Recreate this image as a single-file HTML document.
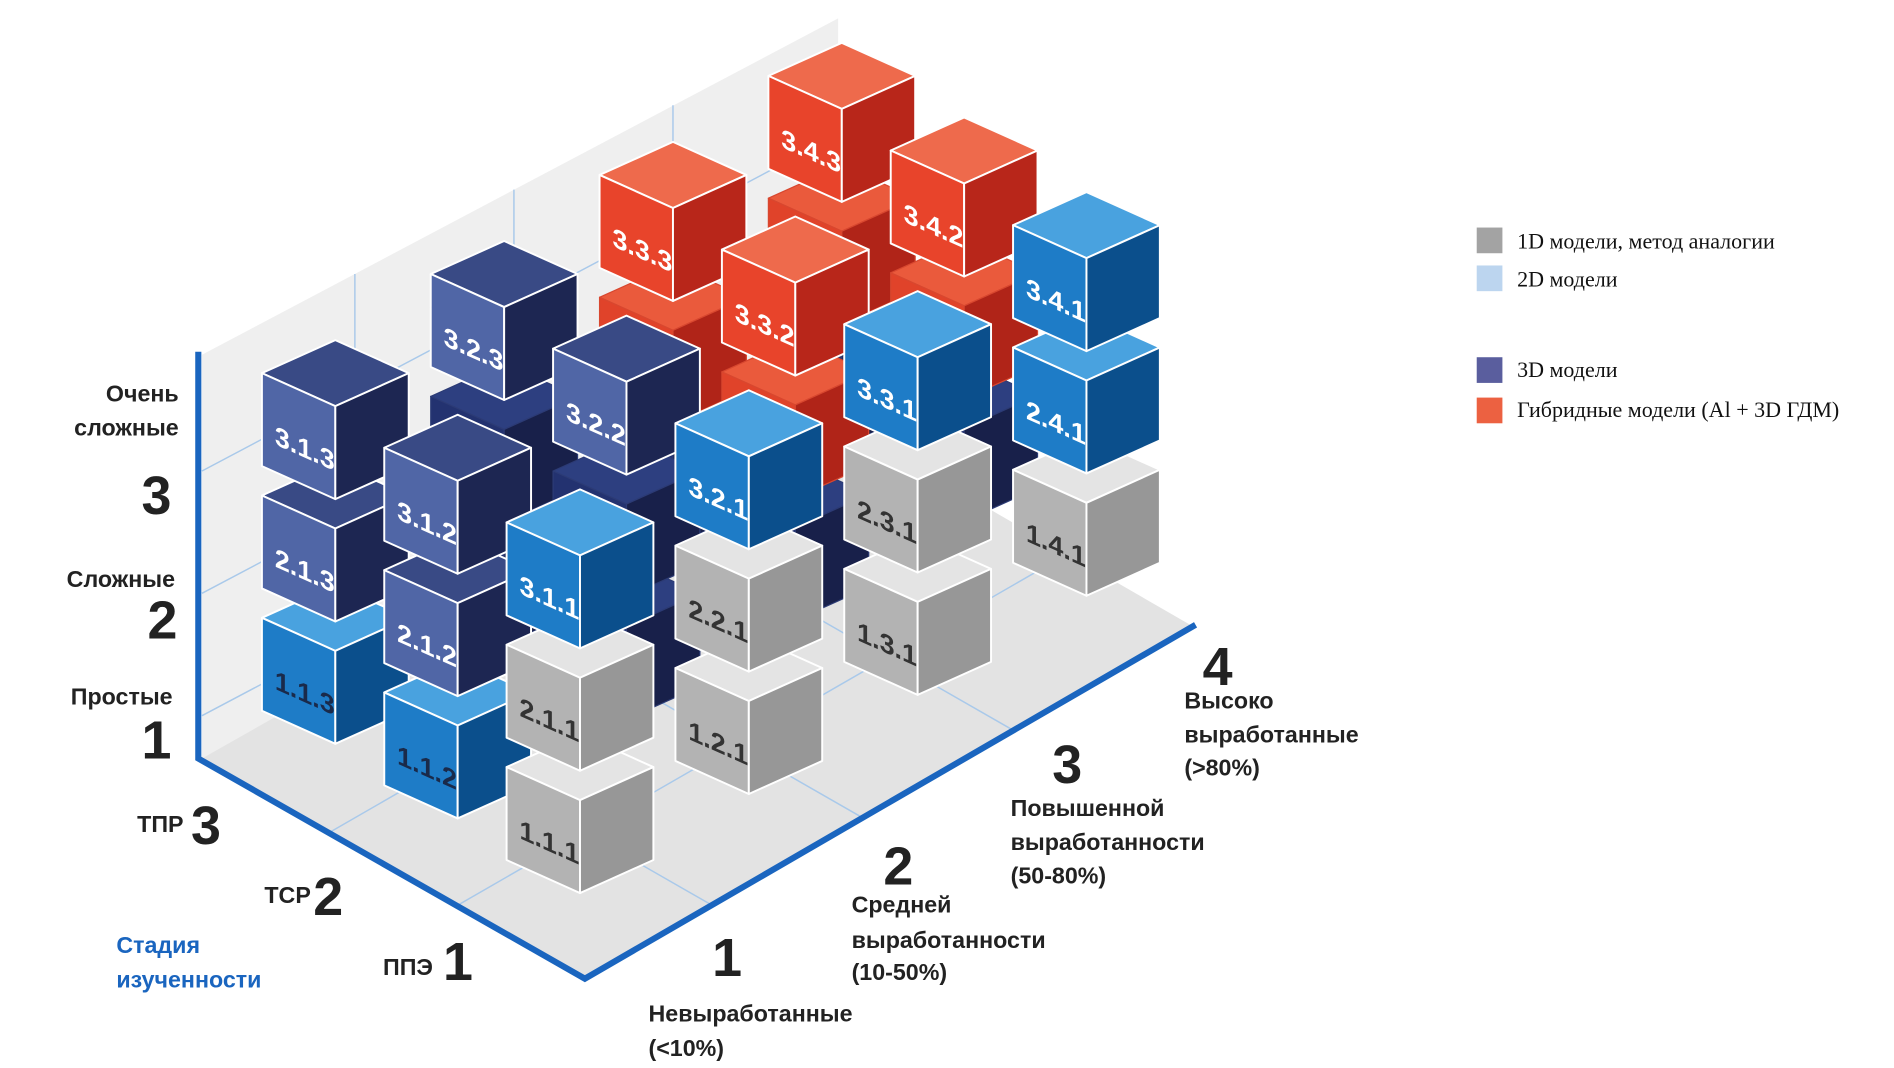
<!DOCTYPE html>
<html><head><meta charset="utf-8"><style>
html,body{margin:0;padding:0;background:#fff;}
svg{display:block;}
.ax{font-family:"Liberation Sans",sans-serif;font-weight:bold;fill:#222;}
.cl{font-family:"Liberation Sans",sans-serif;font-weight:bold;font-size:22px;text-anchor:middle;}
.lg{font-family:"Liberation Serif",serif;font-size:18px;fill:#111;}
</style></head><body>
<svg width="1894" height="1068" viewBox="0 0 1548 873" xmlns="http://www.w3.org/2000/svg">
<defs>
<g id="cg" stroke="#fff" stroke-width="1.6" stroke-linejoin="round">
<polygon points="0,0 -60,-27 0,-54 60,-27" fill="#e4e4e4"/>
<polygon points="-60,-27 0,0 0,76 -60,49" fill="#b3b3b3"/>
<polygon points="0,0 60,-27 60,49 0,76" fill="#979797"/>
</g>
<g id="cb" stroke="#fff" stroke-width="1.6" stroke-linejoin="round">
<polygon points="0,0 -60,-27 0,-54 60,-27" fill="#49a2df"/>
<polygon points="-60,-27 0,0 0,76 -60,49" fill="#1e7cc7"/>
<polygon points="0,0 60,-27 60,49 0,76" fill="#0b4f8c"/>
</g>
<g id="cn" stroke="#fff" stroke-width="1.6" stroke-linejoin="round">
<polygon points="0,0 -60,-27 0,-54 60,-27" fill="#394a85"/>
<polygon points="-60,-27 0,0 0,76 -60,49" fill="#5066a6"/>
<polygon points="0,0 60,-27 60,49 0,76" fill="#1d2652"/>
</g>
<g id="cd" stroke="#2c3b75" stroke-width="1" stroke-linejoin="round">
<polygon points="0,0 -60,-27 0,-54 60,-27" fill="#2d3f80"/>
<polygon points="-60,-27 0,0 0,76 -60,49" fill="#233270"/>
<polygon points="0,0 60,-27 60,49 0,76" fill="#18204a"/>
</g>
<g id="cr" stroke="#fff" stroke-width="1.6" stroke-linejoin="round">
<polygon points="0,0 -60,-27 0,-54 60,-27" fill="#ee6a4c"/>
<polygon points="-60,-27 0,0 0,76 -60,49" fill="#e8442b"/>
<polygon points="0,0 60,-27 60,49 0,76" fill="#b8261a"/>
</g>
<g id="crh" stroke="#d8472f" stroke-width="1" stroke-linejoin="round">
<polygon points="0,0 -60,-27 0,-54 60,-27" fill="#ea5a3c"/>
<polygon points="-60,-27 0,0 0,76 -60,49" fill="#e0432a"/>
<polygon points="0,0 60,-27 60,49 0,76" fill="#b02418"/>
</g>
</defs>

<polygon points="165,620 165,290 685,15 685,345" fill="#efefef"/>
<polygon points="478,800 165,620 668,335 975,512" fill="#e3e3e3"/>
<g stroke="#a9c9ea" stroke-width="1.2" fill="none">
<line x1="165" y1="385" x2="685" y2="110"/>
<line x1="165" y1="485" x2="685" y2="210"/>
<line x1="165" y1="585" x2="685" y2="310"/>
<line x1="290" y1="553" x2="290" y2="224"/>
<line x1="420" y1="484" x2="420" y2="155"/>
<line x1="550" y1="415" x2="550" y2="86"/>
<line x1="582" y1="740" x2="268" y2="560"/>
<line x1="706" y1="669" x2="392" y2="489"/>
<line x1="830" y1="598" x2="516" y2="418"/>
<line x1="374" y1="740" x2="872" y2="453"/>
<line x1="270" y1="680" x2="768" y2="393"/>
</g>
<g stroke="#1a65bf" stroke-width="5" fill="none" stroke-linecap="square">
<polyline points="162,290 162,620 478,800 975,512"/>
</g>

<!-- (4,3) -->
<use href="#cd" x="688" y="289"/>
<use href="#crh" x="688" y="189"/>
<g transform="translate(688,89)"><use href="#cr"/><text class="cl" fill="#fff" transform="translate(-25,42) skewY(24)">3.4.3</text></g>
<!-- (4,2) -->
<use href="#cd" x="788" y="350"/>
<use href="#crh" x="788" y="250"/>
<g transform="translate(788,150)"><use href="#cr"/><text class="cl" fill="#fff" transform="translate(-25,42) skewY(24)">3.4.2</text></g>
<!-- (3,3) -->
<use href="#cd" x="550" y="370"/>
<use href="#crh" x="550" y="270"/>
<g transform="translate(550,170)"><use href="#cr"/><text class="cl" fill="#fff" transform="translate(-25,42) skewY(24)">3.3.3</text></g>
<!-- (4,1) -->
<g transform="translate(888,411)"><use href="#cg"/><text class="cl" fill="#333" transform="translate(-25,42) skewY(24)">1.4.1</text></g>
<g transform="translate(888,311)"><use href="#cb"/><text class="cl" fill="#fff" transform="translate(-25,42) skewY(24)">2.4.1</text></g>
<g transform="translate(888,211)"><use href="#cb"/><text class="cl" fill="#fff" transform="translate(-25,42) skewY(24)">3.4.1</text></g>
<!-- (3,2) -->
<use href="#cd" x="650" y="431"/>
<use href="#crh" x="650" y="331"/>
<g transform="translate(650,231)"><use href="#cr"/><text class="cl" fill="#fff" transform="translate(-25,42) skewY(24)">3.3.2</text></g>
<!-- (2,3) -->
<use href="#cd" x="412" y="451"/>
<use href="#cd" x="412" y="351"/>
<g transform="translate(412,251)"><use href="#cn"/><text class="cl" fill="#fff" transform="translate(-25,42) skewY(24)">3.2.3</text></g>
<!-- (3,1) -->
<g transform="translate(750,492)"><use href="#cg"/><text class="cl" fill="#333" transform="translate(-25,42) skewY(24)">1.3.1</text></g>
<g transform="translate(750,392)"><use href="#cg"/><text class="cl" fill="#333" transform="translate(-25,42) skewY(24)">2.3.1</text></g>
<g transform="translate(750,292)"><use href="#cb"/><text class="cl" fill="#fff" transform="translate(-25,42) skewY(24)">3.3.1</text></g>
<!-- (2,2) -->
<use href="#cd" x="512" y="512"/>
<use href="#cd" x="512" y="412"/>
<g transform="translate(512,312)"><use href="#cn"/><text class="cl" fill="#fff" transform="translate(-25,42) skewY(24)">3.2.2</text></g>
<!-- (1,3) -->
<g transform="translate(274,532)"><use href="#cb"/><text class="cl" fill="#1a2a4a" transform="translate(-25,42) skewY(24)">1.1.3</text></g>
<g transform="translate(274,432)"><use href="#cn"/><text class="cl" fill="#fff" transform="translate(-25,42) skewY(24)">2.1.3</text></g>
<g transform="translate(274,332)"><use href="#cn"/><text class="cl" fill="#fff" transform="translate(-25,42) skewY(24)">3.1.3</text></g>
<!-- (2,1) -->
<g transform="translate(612,573)"><use href="#cg"/><text class="cl" fill="#333" transform="translate(-25,42) skewY(24)">1.2.1</text></g>
<g transform="translate(612,473)"><use href="#cg"/><text class="cl" fill="#333" transform="translate(-25,42) skewY(24)">2.2.1</text></g>
<g transform="translate(612,373)"><use href="#cb"/><text class="cl" fill="#fff" transform="translate(-25,42) skewY(24)">3.2.1</text></g>
<!-- (1,2) -->
<g transform="translate(374,593)"><use href="#cb"/><text class="cl" fill="#1a2a4a" transform="translate(-25,42) skewY(24)">1.1.2</text></g>
<g transform="translate(374,493)"><use href="#cn"/><text class="cl" fill="#fff" transform="translate(-25,42) skewY(24)">2.1.2</text></g>
<g transform="translate(374,393)"><use href="#cn"/><text class="cl" fill="#fff" transform="translate(-25,42) skewY(24)">3.1.2</text></g>
<!-- (1,1) -->
<g transform="translate(474,654)"><use href="#cg"/><text class="cl" fill="#333" transform="translate(-25,42) skewY(24)">1.1.1</text></g>
<g transform="translate(474,554)"><use href="#cg"/><text class="cl" fill="#333" transform="translate(-25,42) skewY(24)">2.1.1</text></g>
<g transform="translate(474,454)"><use href="#cb"/><text class="cl" fill="#fff" transform="translate(-25,42) skewY(24)">3.1.1</text></g>

<text class="ax" font-size="19" x="146" y="328" text-anchor="end">Очень</text>
<text class="ax" font-size="19" x="146" y="356" text-anchor="end">сложные</text>
<text class="ax" font-size="44" x="140" y="420" text-anchor="end">3</text>
<text class="ax" font-size="19" x="143" y="480" text-anchor="end">Сложные</text>
<text class="ax" font-size="44" x="145" y="522" text-anchor="end">2</text>
<text class="ax" font-size="19" x="141" y="576" text-anchor="end">Простые</text>
<text class="ax" font-size="44" x="140" y="620" text-anchor="end">1</text>

<text class="ax" font-size="19" x="112" y="680">ТПР</text>
<text class="ax" font-size="44" x="156" y="690">3</text>
<text class="ax" font-size="19" x="216" y="738">ТСР</text>
<text class="ax" font-size="44" x="256" y="748">2</text>
<text class="ax" font-size="19" x="313" y="797">ППЭ</text>
<text class="ax" font-size="44" x="362" y="801">1</text>
<text class="ax" font-size="19" x="95" y="779" style="fill:#1a65bf">Стадия</text>
<text class="ax" font-size="19" x="95" y="807" style="fill:#1a65bf">изученности</text>

<text class="ax" font-size="44" x="582" y="798">1</text>
<text class="ax" font-size="19" x="530" y="835">Невыработанные</text>
<text class="ax" font-size="19" x="530" y="863">(&lt;10%)</text>
<text class="ax" font-size="44" x="722" y="723">2</text>
<text class="ax" font-size="19" x="696" y="746">Средней</text>
<text class="ax" font-size="19" x="696" y="775">выработанности</text>
<text class="ax" font-size="19" x="696" y="801">(10-50%)</text>
<text class="ax" font-size="44" x="860" y="640">3</text>
<text class="ax" font-size="19" x="826" y="667">Повышенной</text>
<text class="ax" font-size="19" x="826" y="695">выработанности</text>
<text class="ax" font-size="19" x="826" y="722">(50-80%)</text>
<text class="ax" font-size="44" x="983" y="560">4</text>
<text class="ax" font-size="19" x="968" y="579">Высоко</text>
<text class="ax" font-size="19" x="968" y="607">выработанные</text>
<text class="ax" font-size="19" x="968" y="634">(&gt;80%)</text>

<rect x="1207" y="186" width="21" height="21" fill="#a3a3a3"/>
<text class="lg" x="1240" y="203">1D модели, метод аналогии</text>
<rect x="1207" y="217" width="21" height="21" fill="#bcd5ef"/>
<text class="lg" x="1240" y="234">2D модели</text>
<rect x="1207" y="292" width="21" height="21" fill="#5a5e9e"/>
<text class="lg" x="1240" y="308">3D модели</text>
<rect x="1207" y="325" width="21" height="21" fill="#ec6141"/>
<text class="lg" x="1240" y="341">Гибридные модели (Al + 3D ГДМ)</text>
</svg>
</body></html>
